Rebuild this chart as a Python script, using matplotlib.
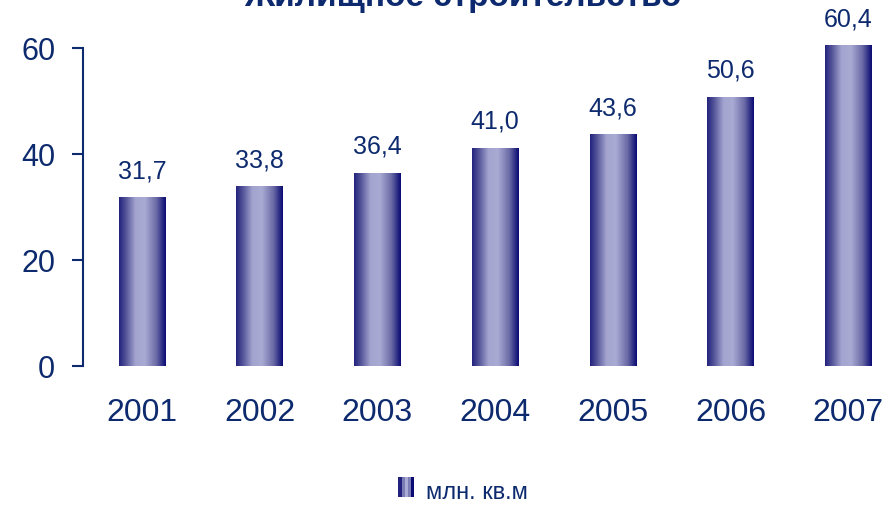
import numpy as np
import matplotlib
matplotlib.use("Agg")
import matplotlib.pyplot as plt
from matplotlib.colors import LinearSegmentedColormap
from matplotlib.legend_handler import HandlerBase
from matplotlib.patches import Rectangle, Patch

years = ["2001", "2002", "2003", "2004", "2005", "2006", "2007"]
values = [31.7, 33.8, 36.4, 41.0, 43.6, 50.6, 60.4]
labels = ["31,7", "33,8", "36,4", "41,0", "43,6", "50,6", "60,4"]
series_name = "млн. кв.м"
title = "Жилищное строительство"

plt.rcParams['font.family'] = ['Liberation Sans', 'DejaVu Sans']
navy = '#0d2a6e'

cmap = LinearSegmentedColormap.from_list(
    "bar", [(0.0, '#22227e'), (0.15, '#55559a'), (0.35, '#a3a4cf'),
            (0.55, '#aaabd4'), (0.8, '#6a6aa6'), (0.93, '#2a2a84'), (1.0, '#0a0a74')])

fig = plt.figure(figsize=(8.96, 5.06), dpi=100)
ax = fig.add_axes([83/896, (506-367)/506, 7*117.75/896, (367-49)/506])

x = np.arange(len(years))
width = 0.395
bars = ax.bar(x, values, width=width, color='none', edgecolor='none', clip_on=False)
grad = np.linspace(0, 1, 256).reshape(1, -1)
for b in bars:
    x0, y0 = b.get_x(), b.get_y()
    ax.imshow(grad, cmap=cmap, aspect='auto', extent=(x0, x0 + b.get_width(), y0, y0 + b.get_height()),
              clip_on=False, zorder=2)

for xi, v, lab in zip(x, values, labels):
    ax.annotate(lab, (xi, v), xytext=(0, 15), textcoords='offset points', ha='center', va='baseline',
                fontsize=18, color=navy, annotation_clip=False)

ax.set_xlim(-0.5, len(years) - 0.5)
ax.set_ylim(0, 60)
ax.set_yticks([0, 20, 40, 60])
ax.set_xticks(x)
ax.set_xticklabels(years)
ax.tick_params(axis='y', direction='out', length=8, width=1.5, colors=navy, labelsize=22, pad=12)
ax.tick_params(axis='x', length=0, labelsize=23, labelcolor=navy, pad=22)
for s in ['top', 'right', 'bottom']:
    ax.spines[s].set_visible(False)
ax.spines['left'].set_color(navy)
ax.spines['left'].set_linewidth(1.5)
ax.set_facecolor('none')


class GradHandler(HandlerBase):
    def create_artists(self, legend, orig_handle, xdescent, ydescent, width, height, fontsize, trans):
        cols = ['#22227e', '#7b7bb5', '#aaabd4', '#7b7bb5', '#0a0a74']
        w = width / len(cols)
        arts = []
        for i, c in enumerate(cols):
            r = Rectangle((xdescent + i * w, ydescent), w, height, facecolor=c, edgecolor='none',
                          transform=trans)
            arts.append(r)
        return arts


handle = Patch(label=series_name)
fig.legend([handle], [series_name], loc='center', bbox_to_anchor=(463/896, 1 - 493/506),
           frameon=False, fontsize=17, labelcolor=navy, handler_map={Patch: GradHandler()},
           handlelength=0.65, handleheight=0.9, handletextpad=0.5)

fig.text(463/896, 1 - 6/506, title, ha='center', va='baseline', fontsize=24, fontweight='bold', color=navy)

fig.savefig("out.png", dpi=100)
